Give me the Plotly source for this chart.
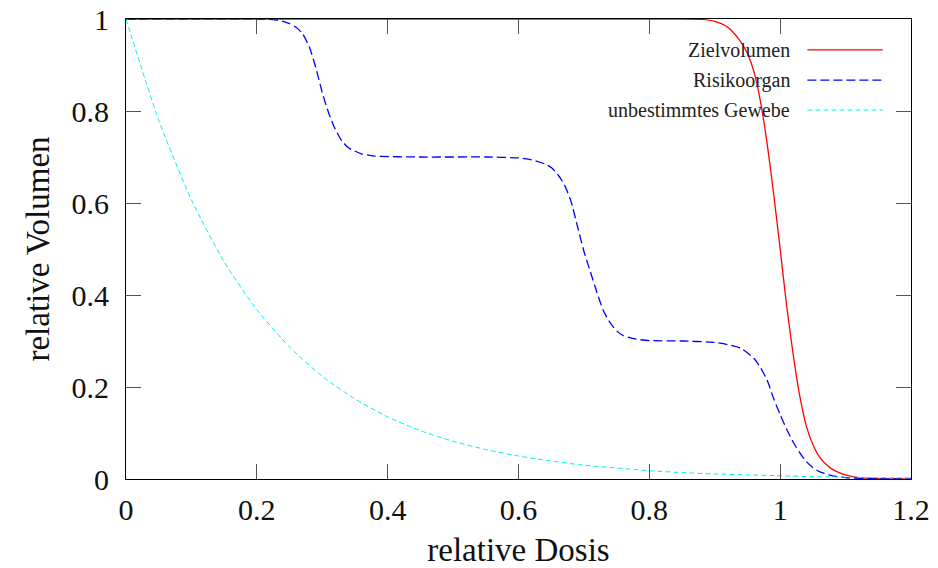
import plotly.graph_objects as go

# ---- data ----
ziel_x = [0.0, 0.85, 0.88, 0.90, 0.91, 0.92, 0.93, 0.94, 0.95, 0.96, 0.97, 0.98, 0.99,
          1.00, 1.01, 1.02, 1.03, 1.04, 1.05, 1.06, 1.07, 1.08, 1.09, 1.10, 1.12, 1.15, 1.20]
ziel_y = [1.0, 1.0, 0.999, 0.995, 0.99, 0.982, 0.968, 0.95, 0.925, 0.885, 0.82, 0.73, 0.62,
          0.50, 0.375, 0.27, 0.18, 0.115, 0.075, 0.048, 0.032, 0.021, 0.014, 0.009, 0.003, 0.001, 0.0]

risiko_x = [0.0, 0.20, 0.22, 0.24, 0.25, 0.26, 0.27, 0.28, 0.29, 0.30, 0.31, 0.32, 0.33, 0.34,
            0.36, 0.38, 0.45, 0.55, 0.60, 0.62, 0.64, 0.65, 0.66, 0.67, 0.68, 0.69, 0.70,
            0.71, 0.72, 0.73, 0.74, 0.75, 0.76, 0.78, 0.80, 0.85, 0.90, 0.92, 0.94, 0.96,
            0.97, 0.98, 0.99, 1.00, 1.01, 1.02, 1.03, 1.04, 1.05, 1.06, 1.08, 1.10, 1.15, 1.20]
risiko_y = [1.0, 1.0, 0.999, 0.995, 0.99, 0.982, 0.968, 0.94, 0.895, 0.84, 0.795, 0.76, 0.735, 0.72,
            0.707, 0.702, 0.70, 0.70, 0.698, 0.694, 0.685, 0.677, 0.662, 0.64, 0.605, 0.55, 0.495,
            0.45, 0.405, 0.365, 0.34, 0.322, 0.312, 0.304, 0.301, 0.30, 0.297, 0.292, 0.284, 0.262,
            0.242, 0.215, 0.175, 0.14, 0.108, 0.08, 0.057, 0.038, 0.025, 0.016, 0.007, 0.003, 0.0005, 0.0]

gewebe_x = [0.0, 0.05, 0.10, 0.15, 0.20, 0.25, 0.30, 0.35, 0.40, 0.45, 0.50, 0.55, 0.60,
            0.65, 0.70, 0.75, 0.80, 0.85, 0.90, 0.95, 1.00, 1.05, 1.10, 1.15, 1.20]
gewebe_y = [1.0, 0.78, 0.607, 0.472, 0.368, 0.287, 0.223, 0.174, 0.135, 0.105, 0.082, 0.064, 0.050,
            0.039, 0.030, 0.024, 0.018, 0.014, 0.011, 0.009, 0.007, 0.005, 0.004, 0.003, 0.0025]

x_ticks = [0, 0.2, 0.4, 0.6, 0.8, 1.0, 1.2]
x_ticklabels = ["0", "0.2", "0.4", "0.6", "0.8", "1", "1.2"]
y_ticks = [0, 0.2, 0.4, 0.6, 0.8, 1.0]
y_ticklabels = ["0", "0.2", "0.4", "0.6", "0.8", "1"]

names = ["Zielvolumen", "Risikoorgan", "unbestimmtes Gewebe"]
colors = ["#ff0000", "#0000ff", "#00f0f0"]
dashes = ["solid", "9px,4px", "5px,3px"]
widths = [1.3, 1.3, 1.0]

FONT = "Liberation Serif"

fig = go.Figure()
series = [(ziel_x, ziel_y), (risiko_x, risiko_y), (gewebe_x, gewebe_y)]
for (xs, ys), n, c, d, w in zip(series, names, colors, dashes, widths):
    fig.add_trace(go.Scatter(x=xs, y=ys, mode="lines", name=n,
                             line=dict(color=c, dash=d, width=w, shape="spline", smoothing=0.6),
                             showlegend=False))

# manual gnuplot-style legend (text right-aligned, sample to the right)
leg_y = [0.933, 0.867, 0.802]
for n, c, d, w, yy in zip(names, colors, dashes, widths, leg_y):
    fig.add_annotation(x=0.848, y=yy, xref="paper", yref="paper", text=n, showarrow=False,
                       xanchor="right", yanchor="middle",
                       font=dict(family=FONT, size=20, color="#222"))
    fig.add_shape(type="line", xref="paper", yref="paper", x0=0.868, x1=0.964, y0=yy, y1=yy,
                  line=dict(color=c, dash=d, width=w))

axis_common = dict(showline=True, linecolor="#000", linewidth=1, mirror="ticks",
                   ticks="inside", ticklen=15, tickwidth=1, tickcolor="#555",
                   showgrid=False, zeroline=False, automargin=False,
                   tickfont=dict(family=FONT, size=30, color="#111"))

fig.update_layout(
    width=938, height=568,
    margin=dict(l=126, r=27, t=19, b=89),
    paper_bgcolor="white", plot_bgcolor="white",
    xaxis=dict(range=[0, 1.2], tickvals=x_ticks, ticktext=x_ticklabels,
               ticklabelstandoff=4,
               title=dict(text="relative Dosis", font=dict(family=FONT, size=33, color="#111"),
                          standoff=20),
               **axis_common),
    yaxis=dict(range=[0, 1], tickvals=y_ticks, ticktext=y_ticklabels,
               ticklabelstandoff=10,
               title=dict(text="relative Volumen", font=dict(family=FONT, size=33, color="#111"),
                          standoff=11),
               **axis_common),
)

fig.write_html("out.html")
